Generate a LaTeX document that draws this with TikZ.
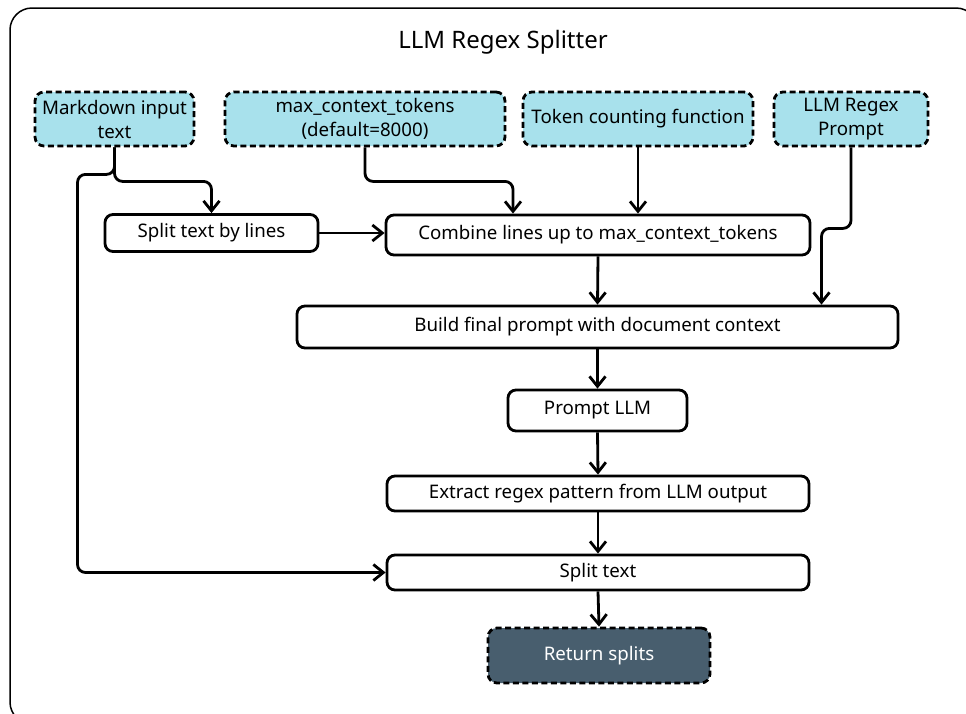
\documentclass[tikz,border=0pt]{standalone}
\usepackage{fontspec}
\setmainfont{Noto Sans}
\usepackage{xcolor}
\usetikzlibrary{calc,arrows.meta}
\definecolor{inputblue}{RGB}{168,225,236}
\definecolor{outslate}{RGB}{72,94,110}
\tikzset{
  inbox/.style={draw,line width=2.8pt,dash pattern=on 6pt off 3.5pt,fill=inputblue,rounded corners=9pt,minimum height=54pt,inner sep=0pt,align=center,font=\fontsize{18.7pt}{24pt}\selectfont},
  stepbox/.style={draw,line width=2.8pt,fill=white,rounded corners=8pt,inner sep=0pt,align=center,font=\fontsize{18.7pt}{24pt}\selectfont},
  outbox/.style={inbox,fill=outslate,text=white,minimum height=55pt},
  flow/.style={line width=2.8pt,rounded corners=8pt,-{Straight Barb[length=10pt,width=16pt,line width=2.8pt]}}
}

\begin{document}
\begin{tikzpicture}[x=1pt,y=-1pt]
    \useasboundingbox (0,0) rectangle (966,713);
    \draw[line width=1.5pt,rounded corners=22pt] (10,8) rectangle (978,724);
    \node[font=\fontsize{24pt}{29pt}\selectfont] (title) at (503,42) {LLM Regex Splitter};
    \node[inbox,minimum width=159pt] (md) at (114.5,119) {Markdown input\\text};
    \node[inbox,minimum width=280pt] (maxctx) at (365,119) {max\_context\_tokens\\(default=8000)};
    \node[inbox,minimum width=230pt] (tokfn) at (638,119) {Token counting function};
    \node[inbox,minimum width=154pt] (rxprompt) at (851,119) {LLM Regex\\Prompt};
    \node[stepbox,minimum width=213pt,minimum height=37pt] (splitlines) at (211.5,233) {Split text by lines};
    \node[stepbox,minimum width=424pt,minimum height=40pt] (combine) at (598,235) {Combine lines up to max\_context\_tokens};
    \node[stepbox,minimum width=601pt,minimum height=42pt] (build) at (597.5,327) {Build final prompt with document context};
    \node[stepbox,minimum width=179pt,minimum height=41pt] (promptllm) at (597.5,410.5) {Prompt LLM};
    \node[stepbox,minimum width=422pt,minimum height=35pt] (extract) at (598,493.5) {Extract regex pattern from LLM output};
    \node[stepbox,minimum width=422pt,minimum height=35pt] (splittext) at (598,572.5) {Split text};
    \node[outbox,minimum width=222pt] (ret) at (599,655.5) {Return splits};
    \draw[flow] (md.south) -- ++(0,34) -| (splitlines.north);
    \draw[flow] (md.south) -- ++(0,27) -- ++(-37,0) |- (splittext.west);
    \draw[flow] (maxctx.south) -- ++(0,34) -| ([xshift=-85pt]combine.north);
    \draw[flow] (tokfn.south) -- (tokfn.south |- combine.north);
    \draw[flow] (rxprompt.south) -- ++(0,81) -| ([xshift=224pt]build.north);
    \draw[flow] (splitlines.east) -- (splitlines.east -| combine.west);
    \draw[flow] (combine.south) -- (build.north);
    \draw[flow] (build.south) -- (promptllm.north);
    \draw[flow] (promptllm.south) -- (extract.north);
    \draw[flow] (extract.south) -- (splittext.north);
    \draw[flow] (splittext.south) -- (ret.north);
\end{tikzpicture}
\end{document}
